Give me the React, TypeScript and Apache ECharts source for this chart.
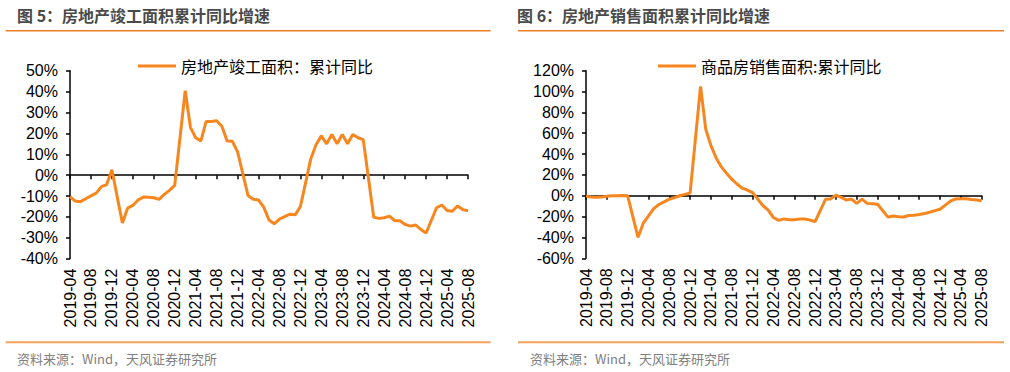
import React, { useEffect, useRef } from "react";
import * as echarts from "echarts";

// Monthly categories 2019-04 .. 2025-08
const categories: string[] = [];
for (let y = 2019; y <= 2025; y++) {
  for (let m = 1; m <= 12; m++) {
    if (y === 2019 && m < 4) continue;
    if (y === 2025 && m > 8) continue;
    categories.push(`${y}-${m < 10 ? "0" + m : m}`);
  }
}

// 房地产竣工面积：累计同比 (%), January has no value (Jan-Feb combined)
const completion2019 = [-10.3, -12.4, -12.7, -11.3, -9.9, -8.6, -5.5, -4.5, 2.6];
const completion2020 = [null, -22.9, -15.8, -14.5, -11.9, -10.5, -10.6, -10.8, -11.6, -9.2, -7.3, -4.9];
const completion2021 = [null, 40.4, 22.9, 17.9, 16.4, 25.7, 25.7, 26.0, 23.4, 16.3, 16.2, 11.2];
const completion2022 = [null, -9.8, -11.5, -11.9, -15.3, -21.5, -23.3, -21.1, -19.9, -18.7, -19.0, -15.0];
const completion2023 = [null, 8.0, 14.7, 18.8, 15.0, 19.5, 15.0, 19.5, 15.0, 19.5, 17.9, 17.0];
const completion2024 = [null, -20.2, -20.7, -20.4, -19.6, -21.8, -21.8, -23.6, -24.4, -23.9, -26.0, -27.7];
const completion2025 = [null, -15.6, -14.3, -16.9, -17.3, -14.8, -16.5, -17.0];

// 商品房销售面积:累计同比 (%)
const sales2019 = [-0.3, -1.3, -1.4, -1.3, -0.4, -0.1, 0.1, 0.2, 0.0];
const sales2020 = [null, -39.9, -26.3, -19.3, -12.3, -8.4, -5.8, -3.3, -1.8, 0.0, 1.3, 2.6];
const sales2021 = [null, 104.9, 63.8, 48.1, 36.3, 27.7, 21.5, 15.9, 11.3, 7.3, 5.5, 3.0];
const sales2022 = [null, -9.6, -13.8, -20.9, -23.6, -22.2, -23.1, -23.0, -22.2, -22.3, -23.3, -24.8];
const sales2023 = [null, -3.4, -3.0, 0.5, -1.5, -4.0, -3.2, -7.3, -3.2, -7.3, -7.6, -8.2];
const sales2024 = [null, -20.5, -19.4, -20.2, -20.3, -19.0, -18.6, -18.0, -17.1, -15.8, -14.3, -12.9];
const sales2025 = [null, -5.1, -3.0, -2.8, -2.9, -3.5, -4.0, -4.7];

const completion = [
  ...completion2019, ...completion2020, ...completion2021, ...completion2022,
  ...completion2023, ...completion2024, ...completion2025,
];
const sales = [
  ...sales2019, ...sales2020, ...sales2021, ...sales2022,
  ...sales2023, ...sales2024, ...sales2025,
];

const leftName = "房地产竣工面积：累计同比";
const rightName = "商品房销售面积:累计同比";
const leftTitle = "图 5：房地产竣工面积累计同比增速";
const rightTitle = "图 6：房地产销售面积累计同比增速";
const sourceText = "资料来源：Wind，天风证券研究所";

const ORANGE = "#F7861F";
const latin = "Liberation Sans, Arial, sans-serif";
const cjk = "Noto Sans CJK SC, sans-serif";

function xAxes(gridIndex: number) {
  return [
    {
      type: "category",
      gridIndex,
      data: categories,
      boundaryGap: false,
      axisLine: { onZero: true, lineStyle: { color: "#000", width: 1.5 } },
      axisTick: { show: true, interval: 3, length: 4, lineStyle: { color: "#000", width: 1.5 } },
      axisLabel: { show: false },
      splitLine: { show: false },
    },
    {
      type: "category",
      gridIndex,
      data: categories,
      boundaryGap: false,
      position: "bottom",
      axisLine: { show: false, onZero: false },
      axisTick: { show: false },
      splitLine: { show: false },
      axisLabel: {
        interval: 3,
        rotate: 90,
        margin: 10,
        fontFamily: latin,
        fontSize: 16,
        color: "#000",
      },
    },
  ];
}

function yAxis(gridIndex: number, min: number, max: number, interval: number) {
  return {
    type: "value",
    gridIndex,
    min,
    max,
    interval,
    axisLine: { show: true, onZero: false, lineStyle: { color: "#000", width: 1.5 } },
    axisTick: { show: true, length: 4, lineStyle: { color: "#000", width: 1.5 } },
    splitLine: { show: false },
    axisLabel: {
      formatter: "{value}%",
      margin: 12,
      fontFamily: latin,
      fontSize: 16,
      color: "#000",
    },
  };
}

function legend(name: string, left: number) {
  return {
    data: [{ name, icon: "rect" }],
    left,
    top: 53,
    itemWidth: 38,
    itemHeight: 3,
    itemStyle: { color: ORANGE },
    textStyle: { fontFamily: cjk, fontSize: 16, color: "#000" },
  };
}

function panelGraphics(titleX: number, srcX: number, lineX1: number, lineX2: number, title: string) {
  return [
    {
      type: "text",
      x: titleX,
      y: 15,
      style: {
        text: title,
        fontFamily: cjk,
        fontSize: 16,
        fontWeight: "bold",
        fill: "#4a4a4a",
        verticalAlign: "middle",
      },
    },
    {
      type: "line",
      shape: { x1: lineX1, y1: 30.7, x2: lineX2, y2: 30.7 },
      style: { stroke: "#F08024", lineWidth: 1.6 },
    },
    {
      type: "line",
      shape: { x1: lineX1, y1: 342.3, x2: lineX2, y2: 342.3 },
      style: { stroke: "#F4A15A", lineWidth: 2 },
    },
    {
      type: "text",
      x: srcX,
      y: 358,
      style: {
        text: sourceText,
        fontFamily: cjk,
        fontSize: 13,
        fill: "#808080",
        verticalAlign: "middle",
      },
    },
  ];
}

export default function App() {
  const ref = useRef<HTMLDivElement>(null);
  useEffect(() => {
    if (!ref.current) return;
    const chart = echarts.init(ref.current, null, { renderer: "svg" });
    chart.setOption({
      animation: false,
      backgroundColor: "#fff",
      grid: [
        { left: 70, top: 70.7, width: 398, height: 188 },
        { left: 586, top: 70.7, width: 395.7, height: 187.6 },
      ],
      xAxis: [...xAxes(0), ...xAxes(1)],
      yAxis: [yAxis(0, -40, 50, 10), yAxis(1, -60, 120, 20)],
      legend: [legend(leftName, 133), legend(rightName, 653)],
      series: [
        {
          name: leftName,
          type: "line",
          xAxisIndex: 0,
          yAxisIndex: 0,
          data: completion,
          connectNulls: true,
          showSymbol: false,
          symbol: "none",
          lineStyle: { color: ORANGE, width: 3 },
          itemStyle: { color: ORANGE },
        },
        {
          name: rightName,
          type: "line",
          xAxisIndex: 2,
          yAxisIndex: 1,
          data: sales,
          connectNulls: true,
          showSymbol: false,
          symbol: "none",
          lineStyle: { color: ORANGE, width: 3 },
          itemStyle: { color: ORANGE },
        },
      ],
      graphic: [
        ...panelGraphics(17, 17, 5.7, 490.7, leftTitle),
        ...panelGraphics(517, 530, 518, 1004, rightTitle),
      ],
    });
    return () => chart.dispose();
  }, []);
  return (
    <div
      ref={ref}
      style={{ position: "absolute", left: 0, top: 0, width: 1010, height: 372 }}
    />
  );
}
